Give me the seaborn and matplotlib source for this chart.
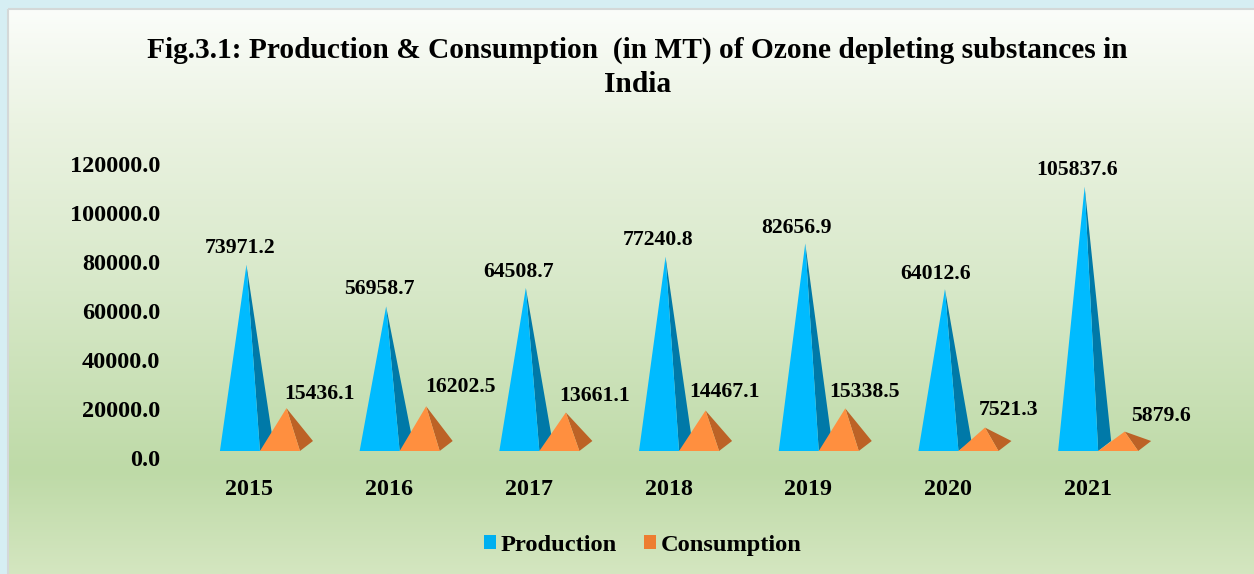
import numpy as np
import pandas as pd
import matplotlib
matplotlib.use("Agg")
import matplotlib.pyplot as plt
import seaborn as sns
from matplotlib.colors import LinearSegmentedColormap
from matplotlib.patches import Patch, Polygon, Rectangle
from matplotlib.transforms import Affine2D

# --- Data ---
years = ["2015", "2016", "2017", "2018", "2019", "2020", "2021"]
production = [73971.2, 56958.7, 64508.7, 77240.8, 82656.9, 64012.6, 105837.6]
consumption = [15436.1, 16202.5, 13661.1, 14467.1, 15338.5, 7521.3, 5879.6]
y_ticks = [0, 20000, 40000, 60000, 80000, 100000, 120000]

# label offsets in pixels from the tip of each pyramid
prod_label_dx = [-6, -7, -7, -7, -9, -9, -8]
prod_label_dy = [17, 17, 16, 17, 15, 15, 17]
cons_label_dx = [33, 34, 29, 19, 19, 24, 36]
cons_label_dy = [14, 19, 17, 19, 16, 18, 16]

W, H = 1254, 574
DEPTH_X, DEPTH_Y = 6.5, 5  # half depth of the fake 3D base, pixels

sns.set_theme(style="white")
plt.rcParams["font.family"] = ["Liberation Serif", "DejaVu Serif"]
plt.rcParams["font.weight"] = "bold"

df = pd.DataFrame({
    "year": years * 2,
    "value": production + consumption,
    "series": ["Production"] * 7 + ["Consumption"] * 7,
})

fig = plt.figure(figsize=(W / 100, H / 100), dpi=100, facecolor="#D6EEF3")

# --- Background panel with vertical gradient ---
bg = fig.add_axes([0, 0, 1, 1], zorder=0)
bg.axis("off")
grad = LinearSegmentedColormap.from_list("panel", [
    (0.0, "#FBFDFA"), (0.2, "#EBF3E2"), (0.5, "#D7E8C8"),
    (0.82, "#BEDAA7"), (1.0, "#D4E6C0"),
])
bg.imshow(np.linspace(0, 1, 256).reshape(-1, 1), cmap=grad, aspect="auto",
          extent=(8, W, H, 9), zorder=1)
bg.add_patch(Rectangle((8, 9), W, H, fill=False, ec="#D4D8D8", lw=1.5, zorder=2))
bg.set_xlim(0, W)
bg.set_ylim(H, 0)

# --- Chart axes, zero line sits at pixel row 446 ---
ax = fig.add_axes([196.6 / W, (H - 446) / H, 977.9 / W, 294 / H], zorder=1)
ax.patch.set_alpha(0)
sns.barplot(data=df, x="year", y="value", hue="series", ax=ax, width=0.573, gap=0,
            palette=["#00B0F0", "#ED7D31"], legend=False, errorbar=None)
ax.set_ylim(0, 120000)
ax.set_xlim(-0.5, 6.5)
ax.set_xlabel("")
ax.set_ylabel("")
ax.set_yticks(y_ticks)
ax.set_yticklabels([f"{t:.1f}" for t in y_ticks])
ax.tick_params(axis="y", length=0, pad=26.4, labelsize=17.5)
ax.tick_params(axis="x", length=0, pad=0, labelsize=17.3)
sns.despine(ax=ax, left=True, bottom=True)

for lab in ax.get_yticklabels():
    lab.set_fontweight("bold")
    lab.set_color("black")
    lab.set_transform(lab.get_transform() + Affine2D().translate(0, -12))
for lab in ax.get_xticklabels():
    lab.set_fontweight("bold")
    lab.set_color("black")
    lab.set_transform(lab.get_transform() + Affine2D().translate(-17, -33))


def draw_pyramids(container, front, side, dxs, dys, order):
    # bars only give the geometry, the pyramid is built on top of them
    to_px = ax.transData.transform
    for bar, dx, dy in zip(container, dxs, dys):
        bar.set_visible(False)
        x0, w, top = bar.get_x(), bar.get_width(), bar.get_height()
        left = to_px((x0, 0))
        right = to_px((x0 + w, 0))
        tip = to_px((x0 + w / 2, top))
        fl = left + (-DEPTH_X, -DEPTH_Y)
        fr = right + (-DEPTH_X, -DEPTH_Y)
        br = right + (DEPTH_X, DEPTH_Y)
        ax.add_patch(Polygon([fr, br, tip], closed=True, fc=side, ec="none",
                             transform=None, zorder=order, clip_on=False))
        ax.add_patch(Polygon([fl, fr, tip], closed=True, fc=front, ec="none",
                             transform=None, zorder=order + 0.1, clip_on=False))
        ax.annotate(f"{top:.1f}", xy=(x0 + w / 2, top), xytext=(dx, dy),
                    textcoords="offset pixels", ha="center", va="center",
                    fontsize=15.7, fontweight="bold", color="black", zorder=10)


draw_pyramids(ax.containers[0], "#00BBFF", "#0079A8", prod_label_dx, prod_label_dy, 3)
draw_pyramids(ax.containers[1], "#FF8F3F", "#BC6226", cons_label_dx, cons_label_dy, 4)

# --- Title and legend ---
fig.text(637.5 / W, 1 - 67 / H,
         "Fig.3.1: Production & Consumption  (in MT) of Ozone depleting substances in\nIndia",
         ha="center", va="center", fontsize=21.15, fontweight="bold", color="black",
         linespacing=1.33, zorder=5)

handles = [Patch(fc="#00B0F0", ec="none", label="Production"),
           Patch(fc="#ED7D31", ec="none", label="Consumption")]
fig.legend(handles=handles, loc="center", bbox_to_anchor=(643 / W, 1 - 545.5 / H),
           ncol=2, frameon=False, prop={"size": 17.6, "weight": "bold"},
           labelcolor="black", handlelength=0.5, handleheight=0.5,
           handletextpad=0.2, columnspacing=1.1)

fig.savefig("out.png", dpi=100, facecolor=fig.get_facecolor())
